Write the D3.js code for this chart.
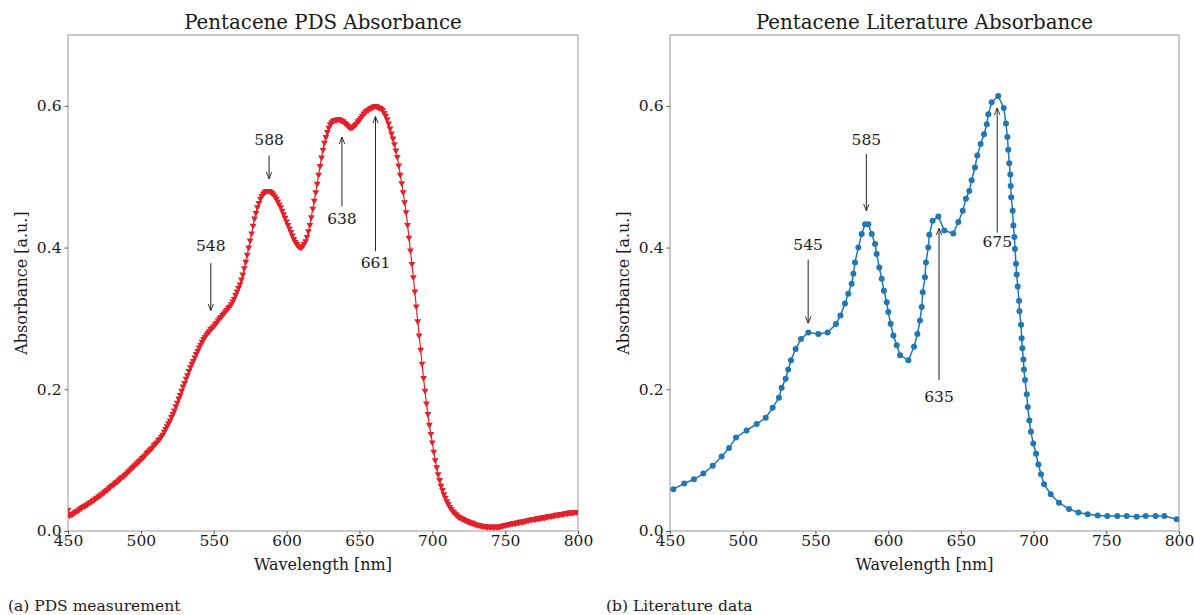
<!DOCTYPE html>
<html><head><meta charset="utf-8">
<script src="https://cdn.jsdelivr.net/npm/d3@7"></script>
<style>
body{margin:0;background:#fff}
svg{display:block}
text{font-family:"DejaVu Serif",serif;fill:#1a1a1a}
</style>
</head><body>
<svg id="chart" width="1195" height="615"></svg>
<script>
// ---------- DATA ----------
const pdsWavelengths = d3.range(450, 801, 1);
const pdsAbsorbance = [
.030,.022,.023,.024,.025,.027,.028,.029,.031,.032,
.034,.035,.036,.037,.039,.040,.041,.043,.044,.046,
.047,.049,.050,.052,.053,.055,.057,.058,.060,.062,
.064,.065,.067,.069,.070,.072,.074,.076,.077,.079,
.081,.083,.085,.087,.089,.091,.093,.095,.097,.099,
.101,.103,.105,.107,.110,.112,.114,.116,.118,.121,
.123,.125,.128,.130,.133,.136,.140,.144,.148,.152,
.156,.161,.165,.170,.176,.181,.187,.192,.198,.204,
.209,.215,.220,.226,.231,.236,.240,.245,.250,.254,
.259,.263,.267,.271,.274,.277,.280,.282,.285,.287,
.289,.292,.294,.297,.300,.302,.305,.307,.310,.312,
.315,.317,.320,.324,.328,.333,.338,.343,.348,.355,
.362,.371,.380,.390,.400,.410,.420,.431,.441,.449,
.457,.463,.469,.473,.476,.478,.480,.480,.480,.479,
.477,.475,.472,.469,.465,.461,.457,.452,.447,.442,
.437,.432,.427,.422,.417,.412,.408,.405,.402,.401,
.400,.402,.405,.409,.415,.423,.432,.443,.455,.466,
.478,.490,.503,.515,.527,.538,.548,.556,.563,.569,
.574,.577,.579,.580,.580,.581,.581,.580,.579,.578,
.576,.574,.572,.570,.569,.570,.571,.573,.575,.578,
.580,.583,.586,.589,.591,.593,.594,.596,.597,.598,
.599,.600,.599,.598,.597,.596,.594,.590,.586,.581,
.575,.568,.561,.554,.546,.537,.528,.516,.503,.491,
.478,.464,.450,.432,.414,.396,.377,.358,.338,.317,
.296,.276,.256,.236,.216,.198,.180,.165,.150,.137,
.125,.112,.100,.090,.080,.072,.064,.058,.052,.047,
.042,.038,.034,.031,.028,.026,.024,.022,.020,.019,
.018,.017,.016,.015,.014,.013,.012,.012,.011,.010,
.009,.009,.008,.008,.007,.007,.007,.006,.006,.006,
.006,.006,.006,.006,.006,.006,.006,.007,.007,.008,
.008,.009,.009,.010,.010,.011,.011,.011,.012,.012,
.013,.013,.013,.014,.014,.015,.015,.016,.016,.017,
.017,.017,.018,.018,.018,.019,.019,.019,.020,.020,
.021,.021,.021,.022,.022,.023,.023,.023,.024,.024,
.024,.025,.025,.025,.026,.026,.026,.026,.027,.027,
.027];

const litWavelengths = [
452.3,459.8,466.5,472.9,479.4,485.5,490.6,495.4,502.7,509.6,
515.8,520.6,524.9,526.8,529.5,531.3,533.2,536.4,540.1,545.1,
552.0,558.4,564.1,567.2,570.3,572.6,574.9,576.1,577.2,579.5,
581.8,584.1,586.4,588.7,591.0,592.1,593.9,595.6,597.1,599.0,
600.1,601.7,603.6,605.9,608.2,613.9,617.8,620.1,621.9,623.1,
623.8,625.3,626.0,627.6,628.3,630.6,634.5,638.6,644.8,648.3,
651.3,653.5,655.8,657.4,659.7,661.3,663.6,665.9,667.8,668.9,
671.2,675.7,679.5,681.0,682.0,682.6,683.3,684.0,684.3,684.6,
685.6,686.1,686.8,687.2,687.9,688.4,689.1,690.0,690.3,691.4,
691.8,692.3,693.0,693.4,694.1,695.3,696.0,697.1,698.2,699.8,
701.7,703.3,705.1,707.2,711.8,717.5,724.4,730.8,737.2,744.1,
750.7,757.6,764.0,770.9,777.1,783.9,789.9,798.4];
const litAbsorbance = [
.059,.067,.073,.081,.092,.105,.117,.132,.142,.151,
.160,.174,.188,.202,.215,.228,.241,.257,.271,.280,
.278,.280,.292,.304,.321,.335,.349,.363,.379,.400,
.419,.433,.433,.419,.405,.391,.372,.356,.339,.323,
.309,.2925,.276,.262,.248,.241,.260,.278,.297,.316,
.337,.358,.379,.400,.418,.438,.444,.424,.420,.436,
.452,.469,.480,.495,.513,.530,.546,.560,.574,.588,
.605,.614,.597,.575,.556,.538,.519,.503,.487,.471,
.452,.431,.415,.398,.377,.362,.345,.325,.310,.291,
.272,.258,.242,.228,.213,.193,.175,.156,.140,.1235,
.109,.094,.080,.066,.052,.040,.031,.026,.0235,.022,
.021,.021,.021,.020,.021,.021,.021,.0165];

const xTicks = [450, 500, 550, 600, 650, 700, 750, 800];
const yTicks = [0.0, 0.2, 0.4, 0.6];

// peak annotations: label, wavelength, arrow tip, arrow tail, text centre (absorbance units)
const pdsPeaks = [
  {label:"548", wl:548, tip:0.311, tail:0.378, text:0.403},
  {label:"588", wl:588, tip:0.497, tail:0.530, text:0.552},
  {label:"638", wl:638, tip:0.556, tail:0.458, text:0.441},
  {label:"661", wl:661, tip:0.585, tail:0.395, text:0.379}
];
const litPeaks = [
  {label:"545", wl:545, tip:0.293, tail:0.383, text:0.404},
  {label:"585", wl:585, tip:0.452, tail:0.532, text:0.552},
  {label:"635", wl:635, tip:0.427, tail:0.213, text:0.190},
  {label:"675", wl:675, tip:0.597, tail:0.421, text:0.408}
];

// ---------- DRAW ----------
const svg = d3.select("#chart");

function panel(opts){
  const {left, right, top, bottom} = opts;
  const x = d3.scaleLinear().domain([450, 800]).range([left, right]);
  const y = d3.scaleLinear().domain([0, 0.7]).range([bottom, top]);
  const g = svg.append("g");

  // frame
  g.append("rect").attr("x", left).attr("y", top)
    .attr("width", right-left).attr("height", bottom-top)
    .attr("fill", "none").attr("stroke", "#a8a8a8").attr("stroke-width", 1.2);

  // axes
  const xa = g.append("g").attr("transform", `translate(0,${bottom})`)
    .call(d3.axisBottom(x).tickValues(xTicks).tickFormat(d3.format("d")).tickSize(3.5).tickPadding(0));
  const ya = g.append("g").attr("transform", `translate(${left},0)`)
    .call(d3.axisLeft(y).tickValues(yTicks).tickFormat(d3.format(".1f")).tickSize(3.5).tickPadding(3));
  [xa, ya].forEach(a => {
    a.select(".domain").remove();
    a.selectAll(".tick line").attr("stroke", "#333").attr("stroke-width", 0.8);
    a.selectAll(".tick text").attr("font-size", 15.5).attr("fill", "#1a1a1a")
      .style("font-family", '"DejaVu Serif", serif');
  });
  xa.selectAll(".tick text").attr("dy", "0.72em");

  // titles & labels
  g.append("text").attr("x", (left+right)/2).attr("y", 28.5)
    .attr("text-anchor", "middle").attr("font-size", 19.8)
    .text(opts.title);
  g.append("text").attr("x", (left+right)/2).attr("y", 570)
    .attr("text-anchor", "middle").attr("font-size", 16).text("Wavelength [nm]");
  g.append("text").attr("transform", `translate(${left-41},${(top+bottom)/2}) rotate(-90)`)
    .attr("text-anchor", "middle").attr("font-size", 16).text("Absorbance [a.u.]");
  g.append("text").attr("x", opts.captionX).attr("y", 611)
    .attr("font-size", 15.5).text(opts.caption);

  // data
  const pts = opts.xs.map((w,i) => [w, opts.ys[i]]);
  const clipId = "clip" + opts.id;
  svg.append("clipPath").attr("id", clipId).append("rect")
    .attr("x", left).attr("y", top).attr("width", right-left).attr("height", bottom-top);
  const dg = g.append("g").attr("clip-path", `url(#${clipId})`);
  dg.append("path").datum(pts)
    .attr("d", d3.line().x(d => x(d[0])).y(d => y(d[1])))
    .attr("fill", "none").attr("stroke", opts.color).attr("stroke-width", opts.lineWidth);
  if (opts.marker === "tri") {
    const sym = d3.symbol().type(d3.symbolTriangle).size(20);
    dg.selectAll("path.m").data(pts).join("path").attr("class","m")
      .attr("d", sym)
      .attr("transform", d => `translate(${x(d[0])},${y(d[1])}) rotate(180)`)
      .attr("fill", opts.color);
  } else {
    dg.selectAll("circle").data(pts).join("circle")
      .attr("cx", d => x(d[0])).attr("cy", d => y(d[1])).attr("r", 3)
      .attr("fill", opts.color);
  }

  // annotations
  const defsId = "arr" + opts.id;
  const mk = svg.append("defs").append("marker").attr("id", defsId)
    .attr("viewBox", "0 0 10 10").attr("refX", 10).attr("refY", 5)
    .attr("markerWidth", 7).attr("markerHeight", 7).attr("markerUnits","userSpaceOnUse")
    .attr("orient", "auto");
  mk.append("path").attr("d", "M0,1 L10,5 L0,9").attr("fill", "none")
    .attr("stroke", "#222").attr("stroke-width", 1.3);
  opts.peaks.forEach(p => {
    g.append("line").attr("x1", x(p.wl)).attr("x2", x(p.wl))
      .attr("y1", y(p.tail)).attr("y2", y(p.tip))
      .attr("stroke", "#222").attr("stroke-width", 1)
      .attr("marker-end", `url(#${defsId})`);
    g.append("text").attr("x", x(p.wl)).attr("y", y(p.text))
      .attr("dy", "0.36em").attr("text-anchor", "middle").attr("font-size", 15.5)
      .text(p.label);
  });
}

panel({id:"a", left:68, right:578, top:35, bottom:531,
  title:"Pentacene PDS Absorbance", caption:"(a) PDS measurement", captionX:8,
  xs: pdsWavelengths, ys: pdsAbsorbance, color:"#e3202a", lineWidth:1.2, marker:"tri",
  peaks: pdsPeaks});
panel({id:"b", left:670, right:1179, top:35, bottom:531,
  title:"Pentacene Literature Absorbance", caption:"(b) Literature data", captionX:606,
  xs: litWavelengths, ys: litAbsorbance, color:"#1f77b4", lineWidth:1.5, marker:"circle",
  peaks: litPeaks});
</script>
</body></html>
